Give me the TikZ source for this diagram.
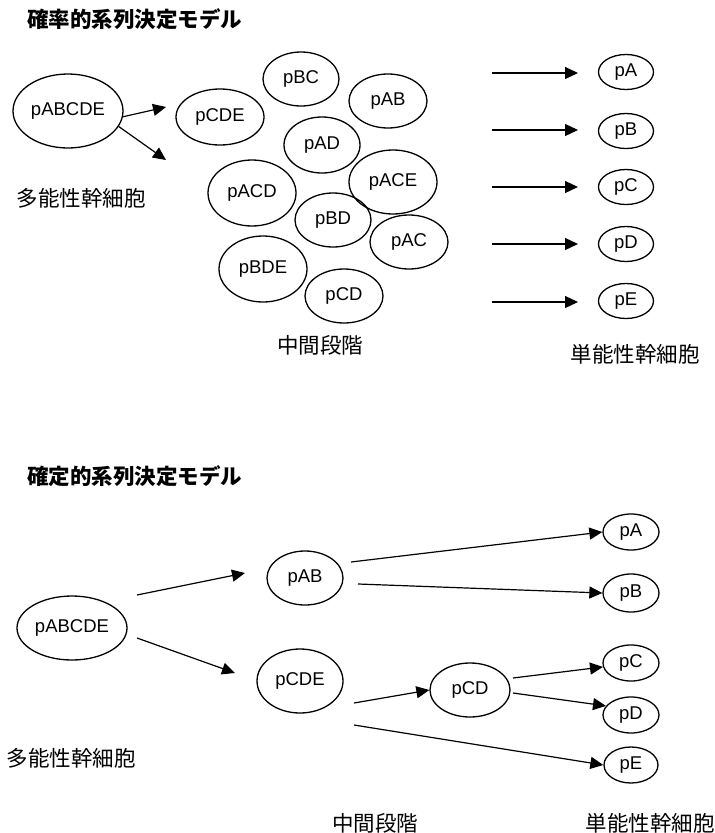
\documentclass[tikz,border=0pt]{standalone}
\usepackage{fontspec}
\setmainfont{Liberation Sans}
\newfontfamily\cjk{Noto Sans CJK JP}
\usetikzlibrary{shapes.geometric,arrows.meta}
\begin{document}
\begin{tikzpicture}[x=1pt,y=-1pt,
 cell/.style={ellipse,draw,line width=1.3pt,inner sep=0pt,font=\fontsize{18.5}{21}\selectfont},
 arr/.style={line width=1.2pt,-{Triangle[length=13pt,width=12pt]}},
 jp/.style={font=\cjk\fontsize{21.5}{24}\selectfont,inner sep=0pt},
 ttl/.style={font=\cjk\bfseries\fontsize{21.5}{24}\selectfont,inner sep=0pt,anchor=west}]
\useasboundingbox[fill=white] (0,0) rectangle (715,833);

% ---------- top: stochastic model ----------
\node[ttl] (t1) at (27,19) {確率的系列決定モデル};

\node[cell,minimum width=110pt,minimum height=74pt] (tABCDE) at (68,111) {pABCDE};
\node[cell,minimum width=88pt,minimum height=56pt] (tCDE) at (220,117) {pCDE};
\node[cell,minimum width=76pt,minimum height=54pt] (tBC) at (301,79) {pBC};
\node[cell,minimum width=78pt,minimum height=54pt] (tAB) at (388,101) {pAB};
\node[cell,minimum width=76pt,minimum height=56pt] (tAD) at (322,145) {pAD};
\node[cell,minimum width=88pt,minimum height=66pt] (tACD) at (252,193) {pACD};
\node[cell,minimum width=88pt,minimum height=64pt] (tACE) at (393,182) {pACE};
\node[cell,minimum width=76pt,minimum height=54pt] (tBD) at (333,220) {pBD};
\node[cell,minimum width=78pt,minimum height=54pt] (tAC) at (409,242) {pAC};
\node[cell,minimum width=88pt,minimum height=66pt] (tBDE) at (263,269) {pBDE};
\node[cell,minimum width=78pt,minimum height=54pt] (tCD) at (344,296) {pCD};

\node[cell,minimum width=55pt,minimum height=35pt] (tA) at (626,72) {pA};
\node[cell,minimum width=55pt,minimum height=35pt] (tB) at (626,131) {pB};
\node[cell,minimum width=55pt,minimum height=35pt] (tC) at (626,187) {pC};
\node[cell,minimum width=55pt,minimum height=35pt] (tD) at (626,244) {pD};
\node[cell,minimum width=55pt,minimum height=35pt] (tE) at (626,301) {pE};

\node[jp] (tl1) at (81,198) {多能性幹細胞};
\node[jp] (tl2) at (320,345) {中間段階};
\node[jp] (tl3) at (635,354) {単能性幹細胞};

\coordinate (ta1) at (166,107);
\coordinate (ta2) at (166,160);
\draw[arr] (tABCDE.-6) -- (ta1);
\draw[arr] (tABCDE.-17) -- (ta2);

\foreach \y [count=\i] in {73,130,187,244,302}{
  \coordinate (rs\i) at (492,\y);
  \coordinate (re\i) at (578,\y);
  \draw[arr] (rs\i) -- (re\i);
}

% ---------- bottom: deterministic model ----------
\node[ttl] (t2) at (27,476) {確定的系列決定モデル};

\node[cell,minimum width=110pt,minimum height=64pt] (bABCDE) at (72,628) {pABCDE};
\node[cell,minimum width=76pt,minimum height=54pt] (bAB) at (305,578) {pAB};
\node[cell,minimum width=86pt,minimum height=64pt] (bCDE) at (300,681) {pCDE};
\node[cell,minimum width=80pt,minimum height=54pt] (bCD) at (470,690) {pCD};

\node[cell,minimum width=56pt,minimum height=36pt] (bA) at (631,532) {pA};
\node[cell,minimum width=56pt,minimum height=38pt] (bB) at (631,593) {pB};
\node[cell,minimum width=56pt,minimum height=36pt] (bC) at (631,663) {pC};
\node[cell,minimum width=56pt,minimum height=36pt] (bD) at (631,715) {pD};
\node[cell,minimum width=54pt,minimum height=36pt] (bE) at (631,765) {pE};

\node[jp] (bl1) at (71,758) {多能性幹細胞};
\node[jp] (bl2) at (375,823) {中間段階};
\node[jp] (bl3) at (650,823) {単能性幹細胞};

\coordinate (bs1) at (137,595); \coordinate (be1) at (245,573);
\coordinate (bs2) at (137,638); \coordinate (be2) at (235,673);
\draw[arr] (bs1) -- (be1);
\draw[arr] (bs2) -- (be2);

\coordinate (ab1) at (351,562);
\coordinate (ab2) at (358,584);
\coordinate (cde1) at (354,703);
\coordinate (cde2) at (354,725);
\coordinate (cd1) at (513,678);
\coordinate (cd2) at (513,693);
\draw[arr] (ab1) -- (bA.west);
\draw[arr] (ab2) -- (bB.west);
\draw[arr] (cde1) -- (bCD.west);
\draw[arr] (cde2) -- (bE.west);
\draw[arr] (cd1) -- (bC.188);
\draw[arr] (cd2) -- (bD.160);
\end{tikzpicture}
\end{document}
